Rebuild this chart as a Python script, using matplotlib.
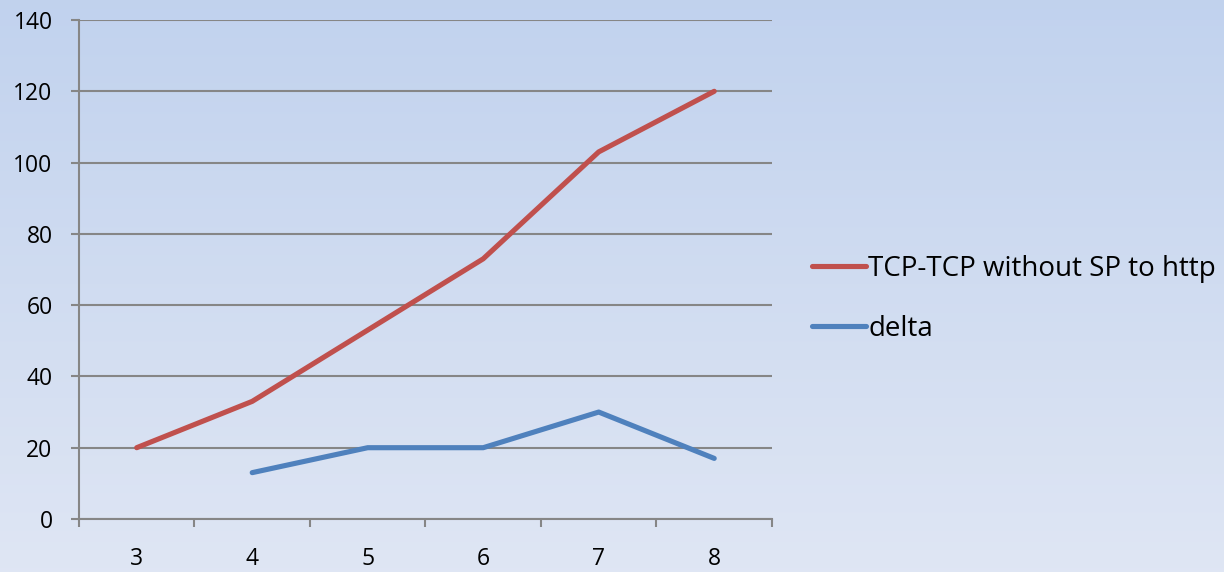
import numpy as np
import matplotlib.pyplot as plt
from matplotlib.ticker import FixedLocator

categories = ['3', '4', '5', '6', '7', '8']
tcp_vals = [20, 33, 53, 73, 103, 120]
delta_cats = ['4', '5', '6', '7', '8']
delta_vals = [13, 20, 20, 30, 17]

plt.rcParams['font.family'] = ['Open Sans', 'DejaVu Sans']

fig = plt.figure(figsize=(12.24, 5.72), dpi=100)

# background gradient across the whole figure
bg = fig.add_axes([0, 0, 1, 1], zorder=-10)
grad = np.linspace(0, 1, 256).reshape(-1, 1)
top = np.array([0.757, 0.824, 0.933])
bot = np.array([0.875, 0.902, 0.957])
img = top + (bot - top) * grad[:, :, None] * np.ones((1, 2, 1))
bg.imshow(img, aspect='auto', extent=[0, 1, 0, 1], origin='upper')
bg.axis('off')

ax = fig.add_axes([0.0645, 0.0927, 0.5662, 0.8723])
ax.patch.set_alpha(0)

pos = {c: i + 0.5 for i, c in enumerate(categories)}
ax.plot([pos[c] for c in categories], tcp_vals, color='#c0504d', lw=3.7,
        solid_capstyle='round', solid_joinstyle='round',
        label='TCP-TCP without SP to http')
ax.plot([pos[c] for c in delta_cats], delta_vals, color='#4f81bd', lw=3.7,
        solid_capstyle='round', solid_joinstyle='round', label='delta')

ax.set_xlim(0, len(categories))
ax.set_ylim(0, 140)
ax.set_yticks(range(0, 141, 20))
ax.yaxis.grid(True, color='#868686', lw=1.5)
ax.set_axisbelow(True)

ax.xaxis.set_major_locator(FixedLocator(range(len(categories) + 1)))
ax.set_xticklabels([])
ax.xaxis.set_minor_locator(FixedLocator([pos[c] for c in categories]))
ax.set_xticklabels(categories, minor=True)
ax.tick_params(axis='x', which='major', length=6, width=1.5, color='#868686')
ax.tick_params(axis='x', which='minor', length=0, pad=20, labelsize=16.5)
ax.tick_params(axis='y', length=6, width=1.5, color='#868686', pad=13, labelsize=16.5)

for s in ['top', 'right']:
    ax.spines[s].set_visible(False)
for s in ['left', 'bottom']:
    ax.spines[s].set_color('#868686')
    ax.spines[s].set_linewidth(1.5)

fig.legend(loc='center left', bbox_to_anchor=(0.663, 0.477), frameon=False,
           fontsize=20, handlelength=1.95, handletextpad=0.1, labelspacing=1.15,
           borderpad=0, borderaxespad=0)

fig.savefig('out.png', dpi=100)
